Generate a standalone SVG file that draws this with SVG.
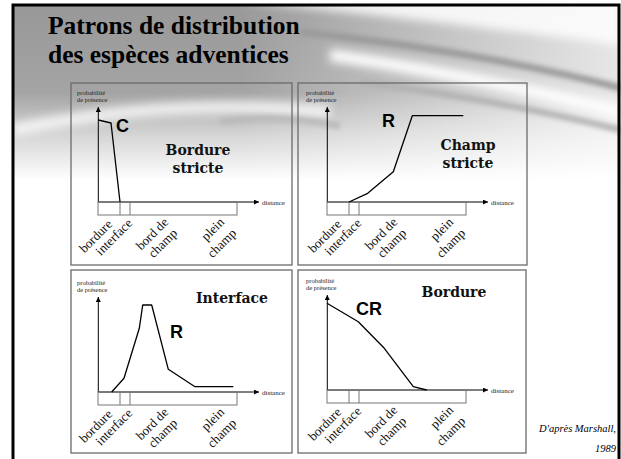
<svg xmlns="http://www.w3.org/2000/svg" width="621" height="459" viewBox="0 0 621 459">
<defs>
<style>
.frame{fill:none;stroke:#6a6a6a;stroke-width:1.3}
.ax{stroke:#000;stroke-width:1;fill:none}
.box{fill:none;stroke:#777;stroke-width:1}
.curve{fill:none;stroke:#000;stroke-width:1.3;stroke-linejoin:round}
.sm{font-family:"Liberation Serif",serif;font-size:6.5px;fill:#222}
.dist{font-family:"Liberation Serif",serif;font-size:7px;fill:#222}
.rot{font-family:"Liberation Serif",serif;font-size:13px;fill:#111;text-anchor:end}
.big{font-family:"DejaVu Serif",serif;font-weight:bold;font-size:14px;fill:#111;text-anchor:middle}
.let{font-family:"Liberation Sans",Arial,sans-serif;font-weight:bold;font-size:18px;fill:#000}
.title{font-family:"Liberation Serif",serif;font-weight:bold;font-size:25.5px;fill:#000}
.cite{font-family:"Liberation Serif",serif;font-style:italic;font-size:10.5px;fill:#000;text-anchor:end}
</style>
<marker id="ah" viewBox="0 0 6 6" refX="6" refY="3" markerWidth="5" markerHeight="5" markerUnits="userSpaceOnUse" orient="auto"><path d="M0,0 L6,3 L0,6 z" fill="#000"/></marker>
<linearGradient id="bgv" x1="0" y1="5" x2="0" y2="180" gradientUnits="userSpaceOnUse">
<stop offset="0" stop-color="#989898"/><stop offset="0.5" stop-color="#a4a4a4"/><stop offset="0.75" stop-color="#d6d6d6"/><stop offset="1" stop-color="#fff"/>
</linearGradient>
<linearGradient id="bgh" x1="240" y1="0" x2="620" y2="0" gradientUnits="userSpaceOnUse"><stop offset="0" stop-color="#fff" stop-opacity="0"/><stop offset="1" stop-color="#fff" stop-opacity="0.75"/></linearGradient>
<filter id="blur" x="-20%" y="-80%" width="140%" height="260%"><feGaussianBlur stdDeviation="5"/></filter>
<filter id="blur2" x="-20%" y="-80%" width="140%" height="260%"><feGaussianBlur stdDeviation="2.5"/></filter>
<g id="axes">
<line class="ax" x1="98.3" y1="202" x2="98.3" y2="107" marker-end="url(#ah)"/>
<line class="ax" x1="98" y1="202" x2="259" y2="202" marker-end="url(#ah)"/>
<rect class="box" x="98" y="202" width="139" height="13"/>
<line class="box" x1="120" y1="202" x2="120" y2="215"/>
<line class="box" x1="130" y1="202" x2="130" y2="215"/>
<text class="sm" x="77" y="95">probabilité</text>
<text class="sm" x="77" y="102">de présence</text>
<text class="dist" x="262" y="204.5">distance</text>
<text class="rot" transform="translate(113,225) rotate(-45)">bordure</text>
<text class="rot" transform="translate(133,224) rotate(-45)">interface</text>
<text class="rot" transform="translate(169,223) rotate(-45)">bord de</text>
<text class="rot" transform="translate(178,234) rotate(-45)">champ</text>
<text class="rot" transform="translate(225,223) rotate(-45)">plein</text>
<text class="rot" transform="translate(237,234) rotate(-45)">champ</text>
</g>
</defs>
<g id="background">
<rect x="0" y="0" width="621" height="459" fill="#fff"/>
<rect x="13" y="5" width="606" height="180" fill="url(#bgv)"/>
<rect x="13" y="5" width="606" height="180" fill="url(#bgh)"/>
<path d="M230,0 C330,10 470,25 621,45 L621,0 Z" fill="#fff" opacity="0.85" filter="url(#blur)"/>
<path d="M300,32 C420,45 520,62 621,88" fill="none" stroke="#9a9a9a" stroke-width="7" filter="url(#blur2)"/>
<path d="M330,55 C450,72 540,92 621,112" fill="none" stroke="#fff" stroke-width="12" filter="url(#blur)"/>
<path d="M360,82 C460,95 540,110 621,130" fill="none" stroke="#b0b0b0" stroke-width="6" filter="url(#blur2)"/>
<path d="M13,130 C100,112 200,100 330,112" fill="none" stroke="#fff" stroke-width="12" opacity="0.8" filter="url(#blur)"/>
<path d="M220,122 C260,116 300,118 340,126" fill="none" stroke="#b8b8b8" stroke-width="6" filter="url(#blur2)"/>
<rect x="13" y="5" width="606" height="470" fill="none" stroke="#000" stroke-width="3"/>
</g>
<g id="title">
<text class="title" x="48" y="34">Patrons de distribution</text>
<text class="title" x="48" y="63">des espèces adventices</text>
</g>
<g id="panel-bordure-stricte">
<rect class="frame" x="71" y="83" width="221" height="182"/>
<use href="#axes"/>
<polyline class="curve" points="98.3,120 111,123 120,202"/>
<text class="let" x="116" y="132">C</text>
<text class="big" x="198" y="155">Bordure</text>
<text class="big" x="198" y="173">stricte</text>
</g>
<g id="panel-champ-stricte">
<rect class="frame" x="298" y="83" width="229" height="182"/>
<use href="#axes" transform="translate(229,0)"/>
<polyline class="curve" points="349,202 367.7,193.3 393.3,171.7 412.3,115.7 463.3,115.7"/>
<text class="let" x="382" y="127">R</text>
<text class="big" x="468" y="150">Champ</text>
<text class="big" x="468" y="168">stricte</text>
</g>
<g id="panel-interface">
<rect class="frame" x="71" y="270" width="221" height="183"/>
<use href="#axes" transform="translate(0,190)"/>
<polyline class="curve" points="111.7,392 124,378.3 139.3,328.3 142.7,305 151.7,305 168.3,369.3 195,386.7 233.3,386.7"/>
<text class="let" x="170" y="338">R</text>
<text class="big" x="232" y="303">Interface</text>
</g>
<g id="panel-bordure">
<rect class="frame" x="298" y="270" width="228" height="183"/>
<use href="#axes" transform="translate(229,188)"/>
<polyline class="curve" points="327,303.3 358.3,321.7 384.3,348.3 413.3,386.7 426.7,390"/>
<text class="let" x="356" y="315">CR</text>
<text class="big" x="454" y="297">Bordure</text>
</g>
<g id="citation">
<text class="cite" x="616" y="432">D'après Marshall,</text>
<text class="cite" x="616" y="452">1989</text>
</g>
</svg>
